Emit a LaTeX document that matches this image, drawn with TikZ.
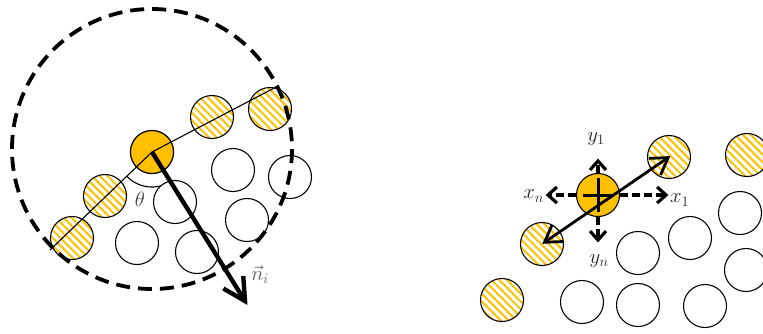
\documentclass[tikz,border=0pt]{standalone}
\usepackage{amsmath}
\usepackage{tikz}
\usetikzlibrary{positioning, patterns.meta, calc}
\definecolor{cGold}{RGB}{255,192,0}
\definecolor{cLabel}{RGB}{89,89,89}
\tikzset{
	grain/.style    ={circle, draw=black, line width=1.1pt, minimum size=43pt, inner sep=0pt, fill=white},
	wetgrain/.style ={circle, draw=black, line width=1.1pt, minimum size=43pt, inner sep=0pt, preaction={fill=white}, pattern={Lines[angle=-45, distance=5.5pt, line width=2pt]}, pattern color=cGold},
	core/.style     ={circle, draw=black, line width=1.1pt, minimum size=43pt, inner sep=0pt, fill=cGold},
	rim/.style      ={line width=3.8pt, dash pattern=on 14pt off 8pt},
	normalline/.style={line width=4.4pt, shorten >=2pt},
	% right-hand panel helpers
	pushline/.style ={line width=3.2pt, dash pattern=on 8pt off 4pt},
	bothline/.style ={line width=2.8pt},
	lab/.style      ={font=\huge, text=black!85, inner sep=1pt},
}
% open V head: tip, point it comes from, arm length, line width, half angle
\newcommand{\barbhead}[5]{%
	\draw[line width=#4, line join=miter, line cap=butt] ($(#1)!#3!#5:(#2)$) -- (#1) -- ($(#1)!#3!-#5:(#2)$);}
\begin{document}
\begin{tikzpicture}[x=1pt, y=-1pt]
	\useasboundingbox (0,0) rectangle (763,333);
	% ---- left panel: contact angle ----
	\node[core] (core) at (152,152) {};
	\draw[line width=1.1pt] (core.center) ++(57:35) arc[start angle=57, end angle=136, radius=35];
	\foreach \pos/\idx in {{(212,117)}/1, {(270,109)}/2, {(105,196)}/3, {(72,238)}/4} {
		\node[wetgrain] (h\idx) at \pos {};
	}
	\foreach \pos/\idx in {{(233,170)}/1, {(290,177)}/2, {(175,202)}/3, {(137,243)}/4, {(247,220)}/5, {(197,252)}/6} {
		\node[grain] (e\idx) at \pos {};
	}
	\node[core] at (core) {};
	\coordinate (L) at (50,250);
	\coordinate (R) at (278,86);
	\draw[line width=1.1pt] (L) -- (core.center) -- (R);
	\draw[rim] (152,149) circle[radius=140];
	\coordinate (ni) at (245,301);
	\draw[normalline] (core.center) -- (ni);
	\barbhead{ni}{core.center}{25pt}{4.4pt}{28}
	\node[lab, text=black!75] (theta) at (140,199) {$\theta$};
	\node[lab, text=cLabel] (nlab) at (260,275) {$\vec{n}_i$};
	% ---- right panel: neighbour search ----
	\foreach \pos/\idx in {{(669,157)}/1, {(542,244)}/2, {(502,300)}/3, {(747,155)}/4} {
		\node[wetgrain] (hh\idx) at \pos {};
	}
	\foreach \pos/\idx in {{(638,253)}/1, {(690,238)}/2, {(740,213)}/3, {(746,270)}/4, {(582,302)}/5, {(638,305)}/6, {(705,306)}/7} {
		\node[grain] (ee\idx) at \pos {};
	}
	\node[core] (ctr) at (598,195) {};
	\draw[line width=3pt] (ctr.center) +(-15,0) -- +(15,0) (ctr.center) +(0,-17) -- +(0,17);
	\node[lab, anchor=west] (x1) at (669,200) {$x_1$};
	\node[lab, anchor=east] (xn) at (545,196) {$x_n$};
	\node[lab] (y1) at (596,139) {$y_1$};
	\node[lab] (yn) at (599,261) {$y_n$};
	\coordinate (tR) at (666,195);
	\coordinate (tL) at (548,195);
	\coordinate (tU) at (598,161);
	\coordinate (tD) at (598,240);
	\draw[pushline] (ctr.east) -- (tR);
	\draw[pushline] (ctr.west) -- (tL);
	\draw[pushline] (ctr.north) -- (tU);
	\draw[pushline] (ctr.south) -- (tD);
	\foreach \t in {tR, tL, tU, tD} {
		\barbhead{\t}{ctr.center}{12pt}{3.2pt}{42}
	}
	\coordinate (tA) at ($(hh1.center)!1pt!(hh2.center)$);
	\coordinate (tB) at ($(hh2.center)!3pt!(hh1.center)$);
	\draw[bothline] (tB) -- (tA);
	\barbhead{tA}{hh2.center}{19pt}{2.8pt}{32}
	\barbhead{tB}{hh1.center}{19pt}{2.8pt}{32}
\end{tikzpicture}
\end{document}
